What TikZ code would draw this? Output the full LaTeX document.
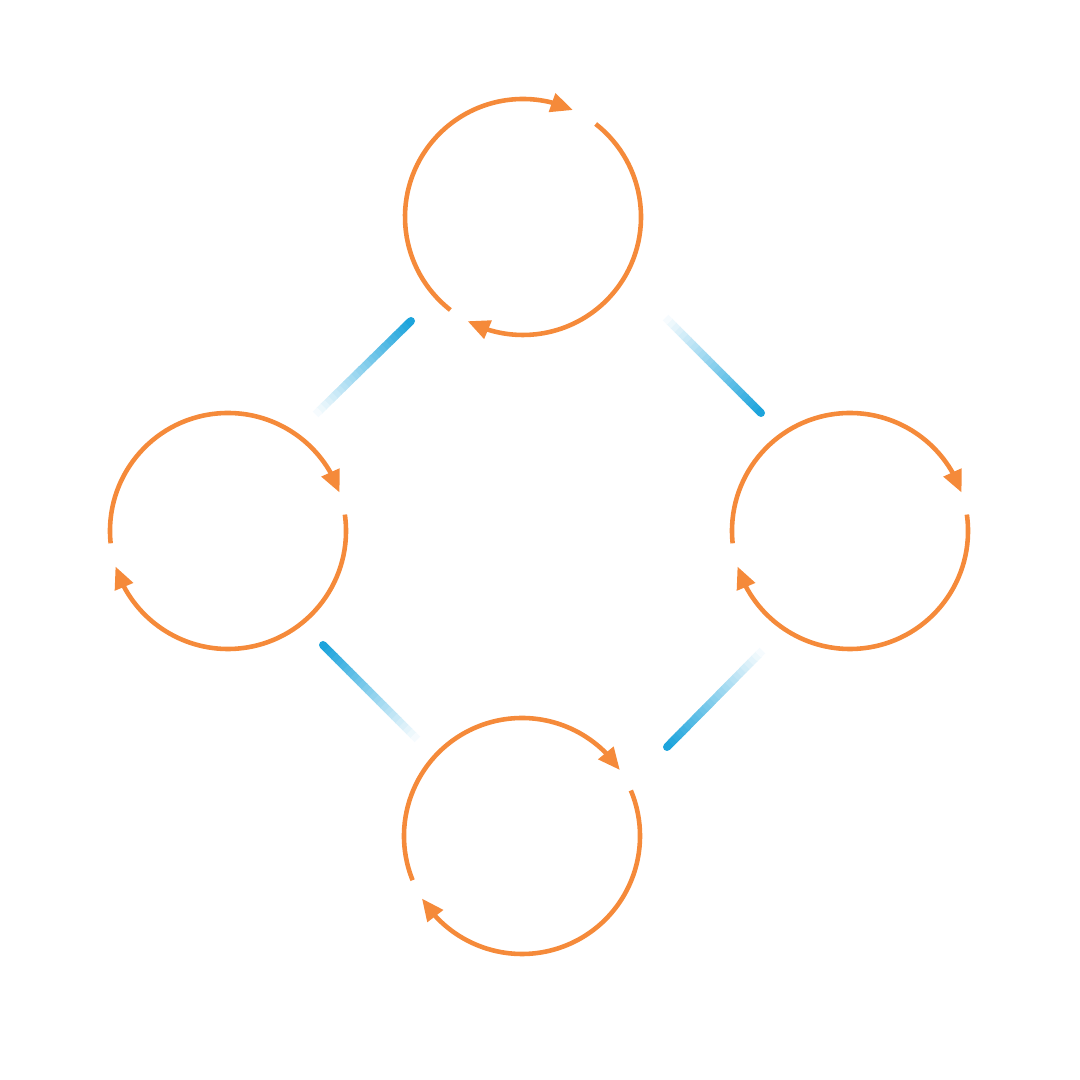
\documentclass[tikz,border=0pt]{standalone}
\usetikzlibrary{arrows.meta,bending,calc}
\definecolor{cycleor}{HTML}{F58A3A}
\definecolor{linkbl}{HTML}{1DA4DC}

\begin{document}
\begin{tikzpicture}[
    cyclearc/.style={draw=cycleor, line width=1.3pt, -{Triangle[length=6.3pt,width=5.4pt,flex]}},
  ]
    \useasboundingbox (0,0) rectangle (10.8,10.8);

    % the four cycles
    \coordinate (top) at (5.23,8.63);
    \coordinate (left) at (2.28,5.49);
    \coordinate (right) at (8.50,5.49);
    \coordinate (bottom) at (5.22,2.44);

    \draw [cyclearc] (top) ++(232:1.18) arc [start angle=232, end angle=65, radius=1.18] ;
    \draw [cyclearc] (top) ++(52:1.18) arc [start angle=52, end angle=-118, radius=1.18] ;

    \draw [cyclearc] (left) ++(186:1.18) arc [start angle=186, end angle=19, radius=1.18] ;
    \draw [cyclearc] (left) ++(8:1.18) arc [start angle=8, end angle=-162.5, radius=1.18] ;

    \draw [cyclearc] (right) ++(186:1.18) arc [start angle=186, end angle=19, radius=1.18] ;
    \draw [cyclearc] (right) ++(8:1.18) arc [start angle=8, end angle=-162.5, radius=1.18] ;

    \draw [cyclearc] (bottom) ++(202:1.18) arc [start angle=202, end angle=34, radius=1.18] ;
    \draw [cyclearc] (bottom) ++(22.7:1.18) arc [start angle=22.7, end angle=-148, radius=1.18] ;

    % the fading links (solid end first)
    \coordinate (tl-a) at (4.11,7.59);
    \coordinate (tl-b) at (3.16,6.66);
    \coordinate (tr-a) at (7.61,6.67);
    \coordinate (tr-b) at (6.66,7.62);
    \coordinate (bl-a) at (3.23,4.35);
    \coordinate (bl-b) at (4.17,3.41);
    \coordinate (br-a) at (6.67,3.33);
    \coordinate (br-b) at (7.62,4.29);

    \foreach \a/\b in {tl-a/tl-b, tr-a/tr-b, bl-a/bl-b, br-a/br-b} {
        \fill [linkbl] (\a) circle (0.04) ;
        \foreach \i in {0,...,24} {
            \pgfmathtruncatemacro\c{100-4*\i}
            \draw [linkbl!\c!white, line width=2.3pt]
                ($(\a)!\i/25!(\b)$) -- ($(\a)!\i/25+0.045!(\b)$) ;
        }
    }
\end{tikzpicture}
\end{document}
